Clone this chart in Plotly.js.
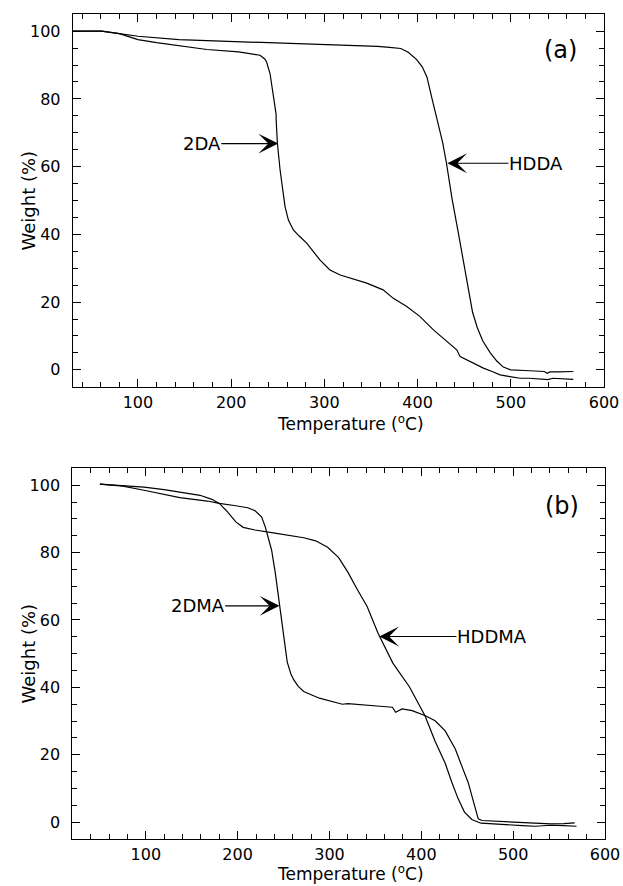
<!DOCTYPE html>
<html>
<head>
<meta charset="utf-8">
<script src="https://cdn.plot.ly/plotly-3.0.1.min.js"></script>
<style>html,body{margin:0;padding:0;background:#fff;}</style>
</head>
<body>
<div id="chart" style="width:623px;height:886px;"></div>
<script>
// Panel (a): HDDA and 2DA
const hdda_T = [30, 45, 61, 80, 100, 144, 167, 208, 274, 293, 330, 357, 370, 382, 390, 399, 405, 410, 416, 420, 424, 427, 431, 437, 444, 452, 459, 464, 470, 478, 485, 492, 500, 515, 527, 536, 539, 542, 550, 560, 567];
const hdda_W = [100, 100, 100, 99.3, 98.5, 97.5, 97.3, 96.9, 96.4, 96.1, 95.8, 95.5, 95.2, 94.9, 93.8, 91.6, 89.5, 86.5, 79.5, 74.8, 71, 67, 61, 50.5, 40, 27.5, 17, 12.5, 8.5, 5, 2.6, 0.8, 0, -0.2, -0.3, -0.5, -1.0, -0.6, -0.6, -0.6, -0.5];
const da2_T = [30, 45, 61, 80, 100, 120, 144, 174, 208, 231, 236, 238, 241.7, 245.3, 247.1, 248.2, 248.3, 249.6, 252.5, 257.8, 261.4, 266.7, 273, 281, 295.4, 306, 317, 330, 345.5, 363, 374, 388.4, 402.7, 417, 431.3, 442, 445.6, 452.8, 461, 470.6, 480, 488.5, 499, 510, 520, 530, 540, 545, 555, 567];
const da2_W = [100, 100, 100, 99.3, 97.5, 96.6, 95.7, 94.6, 93.9, 92.9, 91.8, 90.9, 87.5, 80.6, 76.7, 75.5, 73.7, 66.9, 59, 48.2, 44.2, 41.3, 39.5, 37.4, 32.4, 29.5, 28.0, 27, 25.6, 23.6, 21.1, 18.7, 15.7, 11.8, 8.3, 5.9, 3.9, 2.9, 1.8, 0.5, -0.5, -1.5, -2.0, -2.5, -2.5, -2.6, -2.9, -2.5, -2.6, -2.8];

// Panel (b): HDDMA and 2DMA
const hddma_T = [50, 75, 98, 120, 137, 159, 172, 180, 189, 198, 206, 219, 237, 254, 272, 285, 298, 310, 320, 330, 341, 353, 369, 387, 404, 415, 426, 433, 440, 447, 455, 465, 480, 498, 510, 524, 541, 555, 569];
const hddma_W = [100.3, 99.9, 99.4, 98.7, 98.0, 97.0, 95.8, 94.6, 92.1, 89.1, 87.5, 86.7, 85.9, 85.2, 84.4, 83.5, 81.6, 78.5, 74.2, 69.2, 64, 56, 47.2, 40.2, 31.6, 24, 17.5, 12, 7, 3, 0.8, -0.3, -0.6, -0.8, -1.0, -1.2, -0.9, -1.0, -1.2];
const dma2_T = [50, 75, 98, 120, 137, 167, 180, 198, 211, 219, 226, 230, 237, 241, 245.5, 250, 254, 258, 261, 266, 272, 289, 300, 311, 314, 320, 332, 343, 355, 368.5, 372, 379, 390, 404.5, 415, 426, 437, 444, 451, 457, 462, 466, 480, 505, 520, 541, 555, 567];
const dma2_W = [100.3, 99.7, 98.5, 97.3, 96.3, 95.3, 94.6, 93.9, 93.3, 92.4, 90.6, 87.7, 80.7, 74, 65, 55.1, 47.5, 44, 42.3, 40.3, 38.8, 36.8, 36, 35.3, 35.0, 35.2, 35.0, 34.6, 34.4, 34.1, 32.6, 33.6, 33.1, 31.6, 30.1, 27.1, 21.7, 16.7, 11.8, 5.9, 1.0, 0.5, 0.3, 0, -0.3, -0.5, -0.4, -0.2];

const xTicks = [100, 200, 300, 400, 500, 600];
const yTicks = [0, 20, 40, 60, 80, 100];
const xTitle = 'Temperature (<sup>o</sup>C)';
const yTitle = 'Weight (%)';

const FONT = 'DejaVu Sans, Liberation Sans, Arial, sans-serif';
const line = {color: '#000', width: 1.2};

const traces = [
  {x: hdda_T, y: hdda_W, type: 'scatter', mode: 'lines', line: line, name: 'HDDA', xaxis: 'x', yaxis: 'y'},
  {x: da2_T, y: da2_W, type: 'scatter', mode: 'lines', line: line, name: '2DA', xaxis: 'x', yaxis: 'y'},
  {x: hddma_T, y: hddma_W, type: 'scatter', mode: 'lines', line: line, name: 'HDDMA', xaxis: 'x2', yaxis: 'y2'},
  {x: dma2_T, y: dma2_W, type: 'scatter', mode: 'lines', line: line, name: '2DMA', xaxis: 'x2', yaxis: 'y2'}
];

function xax(domain, range, anchor) {
  return {
    domain: domain, range: range, anchor: anchor,
    tickmode: 'array', tickvals: xTicks, ticktext: xTicks.map(String),
    ticks: 'inside', ticklen: 8, tickwidth: 1, tickcolor: '#000',
    minor: {dtick: 20, tick0: 0, ticks: 'inside', ticklen: 5, tickwidth: 1, tickcolor: '#000'},
    showline: true, linecolor: '#000', linewidth: 1, mirror: 'allticks',
    showgrid: false, zeroline: false,
    tickfont: {family: FONT, size: 16, color: '#000'},
    ticklabelstandoff: 1,
    automargin: false
  };
}
function yax(domain, anchor) {
  return {
    domain: domain, range: [-5, 105], anchor: anchor,
    tickmode: 'array', tickvals: yTicks, ticktext: yTicks.map(String),
    ticks: 'inside', ticklen: 8, tickwidth: 1, tickcolor: '#000',
    minor: {dtick: 5, tick0: 0, ticks: 'inside', ticklen: 5, tickwidth: 1, tickcolor: '#000'},
    showline: true, linecolor: '#000', linewidth: 1, mirror: 'allticks',
    showgrid: false, zeroline: false,
    tickfont: {family: FONT, size: 16, color: '#000'},
    ticklabelstandoff: 8,
    automargin: false
  };
}

const f = (size) => ({family: FONT, size: size, color: '#000'});
const arrow = {showarrow: true, arrowhead: 3, arrowsize: 3, arrowwidth: 1.1, arrowcolor: '#000', standoff: 0, startstandoff: 0, borderpad: 0};

const annotations = [
  // panel (a)
  Object.assign({}, arrow, {text: '2DA', font: f(18), xref: 'x', yref: 'y', axref: 'x', ayref: 'y', x: 250.5, y: 66.8, ax: 168.5, ay: 66.8}),
  Object.assign({}, arrow, {text: 'HDDA', font: f(18), xref: 'x', yref: 'y', axref: 'x', ayref: 'y', x: 432, y: 61, ax: 527, ay: 61}),
  {text: '(a)', font: f(24), showarrow: false, xref: 'x', yref: 'y', x: 553, y: 94.4, xanchor: 'center', yanchor: 'middle'},
  // panel (b)
  Object.assign({}, arrow, {text: '2DMA', font: f(18), xref: 'x2', yref: 'y2', axref: 'x2', ayref: 'y2', x: 245.6, y: 64.2, ax: 156.5, ay: 64.2}),
  Object.assign({}, arrow, {text: 'HDDMA', font: f(18), xref: 'x2', yref: 'y2', axref: 'x2', ayref: 'y2', x: 354.2, y: 55.1, ax: 476.9, ay: 55.1}),
  {text: '(b)', font: f(24), showarrow: false, xref: 'x2', yref: 'y2', x: 553, y: 93.8, xanchor: 'center', yanchor: 'middle'},
  // axis titles
  {text: xTitle, font: f(17), showarrow: false, borderpad: 0, xref: 'paper', yref: 'paper', x: 0.562, y: 1 - 423 / 886, xanchor: 'center', yanchor: 'middle'},
  {text: xTitle, font: f(17), showarrow: false, borderpad: 0, xref: 'paper', yref: 'paper', x: 0.562, y: 1 - 872.5 / 886, xanchor: 'center', yanchor: 'middle'},
  {text: yTitle, font: f(18), showarrow: false, textangle: -90, xref: 'paper', yref: 'paper', x: 28 / 623, y: 1 - 200.5 / 886, xanchor: 'center', yanchor: 'middle'},
  {text: yTitle, font: f(18), showarrow: false, textangle: -90, xref: 'paper', yref: 'paper', x: 28 / 623, y: 1 - 653.5 / 886, xanchor: 'center', yanchor: 'middle'}
];

const layout = {
  width: 623, height: 886,
  margin: {l: 0, r: 0, t: 0, b: 0},
  paper_bgcolor: '#fff', plot_bgcolor: '#fff',
  showlegend: false,
  font: {family: FONT, color: '#000'},
  xaxis: xax([0.1167, 0.9695], [30, 600], 'y'),
  yaxis: yax([0.5635, 0.9839], 'x'),
  xaxis2: xax([0.1161, 0.9711], [20, 600], 'y2'),
  yaxis2: yax([0.0530, 0.4714], 'x2'),
  annotations: annotations
};

Plotly.newPlot('chart', traces, layout, {staticPlot: true, displayModeBar: false});
</script>
</body>
</html>
